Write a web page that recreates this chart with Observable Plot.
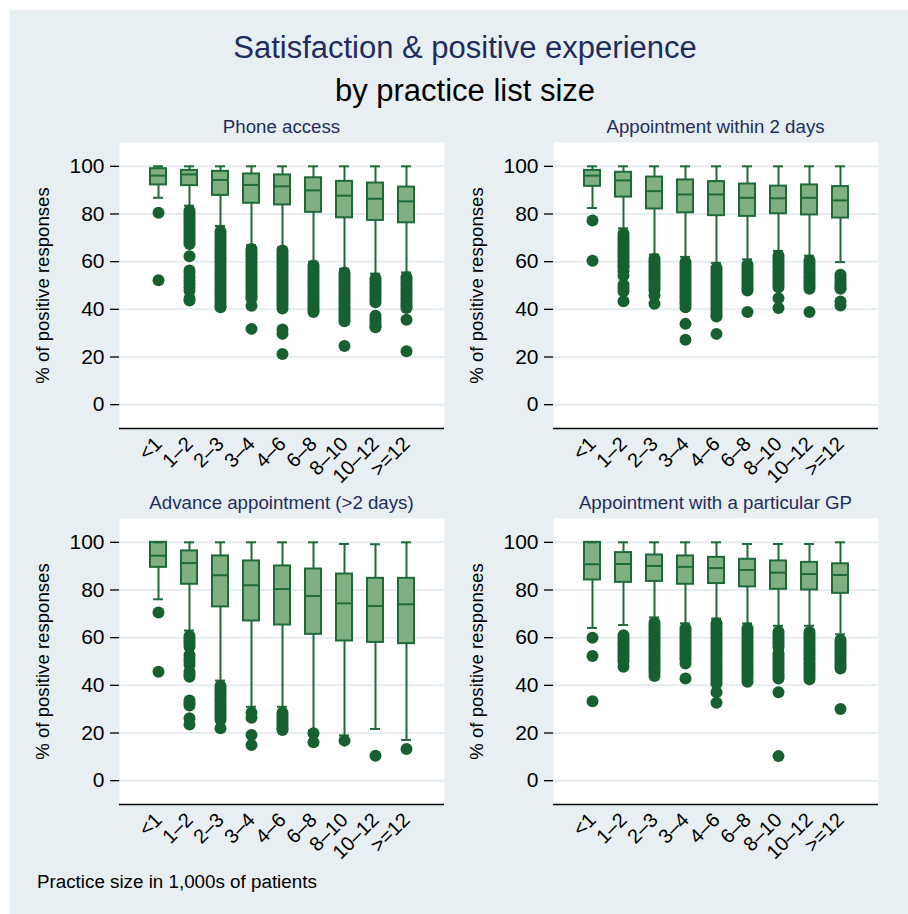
<!DOCTYPE html>
<html>
<head>
<meta charset="utf-8">
<script src="https://cdn.jsdelivr.net/npm/d3@7"></script>
<script src="https://cdn.jsdelivr.net/npm/@observablehq/plot@0.6"></script>
<style>
  html, body { margin: 0; padding: 0; background: #ffffff; }
  body { width: 908px; height: 914px; position: relative; overflow: hidden; font-family: "Liberation Sans", Arial, sans-serif; }
  #bg { position: absolute; left: 10px; top: 10px; width: 898px; height: 904px; background: #e8eff2; }
  .abs { position: absolute; white-space: nowrap; }
  .title { left: 0; width: 930px; text-align: center; font-size: 31px; line-height: 31px; }
  .ptitle { font-size: 18.7px; line-height: 19px; color: #1f2d5c; text-align: center; }
  .panel { position: absolute; }
</style>
</head>
<body>
<div id="bg"></div>
<div class="abs title" style="top:32px;color:#1f2d5c;">Satisfaction &amp; positive experience</div>
<div class="abs title" style="top:75px;color:#000;">by practice list size</div>
<div class="abs ptitle" style="left:119px;width:325px;top:117px;">Phone access</div>
<div class="abs ptitle" style="left:553px;width:325px;top:117px;">Appointment within 2 days</div>
<div class="abs ptitle" style="left:119px;width:325px;top:493px;">Advance appointment (&gt;2 days)</div>
<div class="abs ptitle" style="left:553px;width:325px;top:493px;">Appointment with a particular GP</div>
<div class="abs" style="left:37px;top:872px;font-size:18.8px;line-height:19px;color:#000;">Practice size in 1,000s of patients</div>
<div id="p1" class="panel" style="left:0px;top:140px;"></div>
<div id="p2" class="panel" style="left:454px;top:140px;"></div>
<div id="p3" class="panel" style="left:0px;top:516px;"></div>
<div id="p4" class="panel" style="left:454px;top:516px;"></div>
<script>
const categories = ["<1", "1–2", "2–3", "3–4", "4–6", "6–8", "8–10", "10–12", ">=12"];
const yTicks = [0, 20, 40, 60, 80, 100];
const yLabel = "% of positive responses";

// Phone access
const phoneHi  = [100, 100, 100, 100, 100, 100, 100, 100, 100];
const phoneQ3  = [99, 98.3, 97.9, 96.8, 96.4, 95.2, 93.7, 93, 91.3];
const phoneMed = [96.1, 96.6, 94.3, 92.2, 91.6, 89.9, 87.7, 86.4, 85.3];
const phoneQ1  = [92.2, 91.9, 87.8, 84.5, 83.8, 80.7, 78.4, 77.3, 76.3];
const phoneLo  = [86.8, 83.5, 75, 67, 66, 60, 57, 55, 55.5];
const phoneOut = [
  [80.5, 52.2],
  [81.4, 80.3, 79.2, 78.1, 77, 75.9, 74.8, 73.7, 72.6, 71.5, 70.4, 69.3, 68.2, 67.4, 62.3, 56.3, 55, 53.5, 52, 50.7, 49.3, 47.9, 44.5, 43.7],
  [72.7, 71.5, 70.3, 69.1, 67.9, 66.7, 65.5, 64.3, 63.1, 61.9, 60.7, 59.5, 58.3, 57.1, 55.9, 54.7, 53.5, 52.3, 51.1, 49.9, 48.7, 47.5, 46.3, 45.1, 43.9, 42.7, 41.5, 40.9],
  [65.3, 64.2, 63.1, 62, 60.9, 59.8, 58.7, 57.6, 56.5, 55.4, 54.3, 53.2, 52.1, 51, 49.9, 48.8, 47.7, 46.6, 45.5, 44.7, 41.5, 31.8],
  [64.7, 63.6, 62.5, 61.4, 60.3, 59.2, 58.1, 57, 55.9, 54.8, 53.7, 52.6, 51.5, 50.4, 49.3, 48.2, 47.1, 46, 44.9, 43.8, 42.7, 41.6, 40.3, 31.5, 29.7, 21.3],
  [58.4, 57.3, 56.2, 55.1, 54, 52.9, 51.8, 50.7, 49.6, 48.5, 47.4, 46.3, 45.2, 44.1, 43, 41.9, 40.8, 39.7, 38.9],
  [55.5, 54.4, 53.3, 52.2, 51.1, 50, 48.9, 47.8, 46.7, 45.6, 44.5, 43.4, 42.3, 41.2, 40.1, 39, 37.9, 36.8, 35.7, 35, 24.6],
  [52.9, 51.8, 50.7, 49.6, 48.5, 47.4, 46.3, 45.2, 44.1, 43, 37.3, 36.2, 35.1, 34, 32.9, 32.5],
  [53.5, 52.4, 51.3, 50.2, 49.1, 48, 46.9, 45.8, 44.7, 43.6, 42.5, 41.4, 40.6, 35.6, 22.4]
];

// Appointment within 2 days
const twoDayHi  = [100, 100, 100, 100, 100, 100, 100, 100, 100];
const twoDayQ3  = [98.3, 97.5, 95.5, 94.3, 93.6, 92.6, 91.7, 92.2, 91.5];
const twoDayMed = [96.1, 94.1, 89.6, 88.2, 88.2, 86.8, 86.6, 86.8, 85.7];
const twoDayQ1  = [91.6, 87.1, 82.1, 80.5, 79.3, 79, 80.1, 79.6, 78.3];
const twoDayLo  = [82.5, 74, 63, 62, 59.5, 61, 64.5, 62.5, 59.8];
const twoDayOut = [
  [77.3, 60.4],
  [71.7, 70.6, 69.5, 68.4, 67.3, 66.2, 65.1, 64, 62.9, 61.8, 60.7, 59.6, 58.5, 57.7, 56, 54.2, 50.3, 49, 47.6, 43.4],
  [61.2, 60.1, 59, 57.9, 56.8, 55.7, 54.6, 53.5, 52.4, 51.3, 50.2, 49.1, 48, 45.9, 42.3],
  [59.8, 58.7, 57.6, 56.5, 55.4, 54.3, 53.2, 52.1, 51, 49.9, 48.8, 47.7, 46.6, 45.5, 44.4, 43.3, 42.2, 40.9, 33.9, 27.2],
  [57.3, 56.2, 55.1, 54, 52.9, 51.8, 50.7, 49.6, 48.5, 47.4, 46.3, 45.2, 44.1, 43, 41.9, 40.8, 39.7, 38.6, 37.5, 37, 29.7],
  [58.7, 57.6, 56.5, 55.4, 54.3, 53.2, 52.1, 51, 49.9, 48.8, 47.9, 38.9],
  [62.5, 61.4, 60.3, 59.2, 58.1, 57, 55.9, 54.8, 53.7, 52.6, 51.5, 50.4, 49.3, 44.7, 40.6],
  [60.5, 59.4, 58.3, 57.2, 56.1, 55, 53.9, 52.8, 51.7, 50.6, 49.5, 48.6, 38.9],
  [54.5, 53.4, 52.3, 51.2, 50.1, 49, 48.6, 43.3, 41.6]
];

// Advance appointment (>2 days)
const advHi  = [100, 100, 100, 100, 100, 100, 99.3, 99.2, 100];
const advQ3  = [100, 96.4, 94.3, 92.2, 90.1, 88.8, 86.7, 84.9, 84.9];
const advMed = [94.4, 91.3, 86.2, 82, 80.4, 77.5, 74.4, 73.3, 74];
const advQ1  = [89.5, 82.4, 72.9, 67, 65.3, 61.4, 58.6, 58, 57.5];
const advLo  = [76.1, 63, 42, 31, 31, 21, 19, 21.7, 17.1];
const advOut = [
  [70.6, 45.7],
  [60.7, 59.6, 58.5, 57.4, 56.2, 52.7, 51.3, 49.9, 48.5, 45.7, 44.6, 43.6, 33.6, 32.5, 31.5, 26.2, 23.6],
  [39.7, 38.6, 37.5, 36.4, 35.3, 34.2, 33.1, 32, 30.9, 29.8, 28.7, 27.6, 26.5, 25.5, 22],
  [28.5, 26.4, 19.2, 15],
  [28.5, 27.4, 26.3, 25.2, 24.1, 23, 21.9, 21.3],
  [19.9, 16.1],
  [16.8],
  [10.5],
  [13.3]
];

// Appointment with a particular GP
const gpHi  = [100, 100, 100, 100, 100, 99.3, 99.3, 99.3, 100];
const gpQ3  = [100, 95.7, 94.7, 94.3, 93.7, 92.9, 92.2, 91.6, 91];
const gpMed = [90.8, 90.9, 90.1, 89.7, 89.2, 88.4, 87.3, 86.7, 86.3];
const gpQ1  = [84.2, 83.2, 83.6, 82.4, 82.7, 81.3, 80.3, 80, 78.6];
const gpLo  = [64.1, 65.3, 68.5, 66, 68, 66, 65, 65, 61.4];
const gpOut = [
  [60, 52.3, 33.3],
  [61, 59.9, 58.8, 57.7, 56.6, 55.5, 54.4, 53.3, 52.2, 51.1, 50, 47.8],
  [66.3, 65.2, 64.1, 63, 61.9, 60.8, 59.7, 58.6, 57.5, 56.4, 55.3, 54.2, 53.1, 52, 50.9, 49.8, 48.7, 47.6, 46.5, 45.4, 43.9],
  [63.9, 62.8, 61.7, 60.6, 59.5, 58.4, 57.3, 56.2, 55.1, 54, 52.9, 51.8, 50.7, 49.2, 42.9],
  [66, 64.9, 63.8, 62.7, 61.6, 60.5, 59.4, 58.3, 57.2, 56.1, 55, 53.9, 52.8, 51.7, 50.6, 49.5, 48.4, 47.3, 46.2, 45.1, 44, 42.9, 41.8, 40.8, 37.1, 32.7],
  [63.8, 62.7, 61.6, 60.5, 59.4, 58.3, 57.2, 56.1, 55, 53.9, 52.8, 51.7, 50.6, 49.5, 48.4, 47.3, 46.2, 45.1, 44, 42.9, 41.5],
  [62.5, 61.4, 60.3, 59.2, 58.1, 57, 56, 53.5, 52.4, 51.3, 50.2, 49.1, 48, 46.9, 45.8, 44.7, 43.6, 42.9, 37.1, 10.3],
  [62.4, 61.3, 60.2, 59.1, 58, 56.9, 55.8, 54.7, 53.6, 52.5, 51.4, 50.3, 49.2, 48.1, 47, 45.9, 44.8, 43.7, 42.5],
  [59, 57.9, 56.8, 55.7, 54.6, 53.5, 52.4, 51.3, 50.2, 49.1, 48, 47.1, 30.1]
];

const boxFill = "#80b07f";
const boxStroke = "#1e6a3a";
const dotFill = "#17602f";
const gridColor = "#e4ecf0";

function panel(id, hi, q3, med, q1, lo, out, marginLeft, marginRight) {
  const stats = categories.map((c, i) => ({c, hi: hi[i], q3: q3[i], med: med[i], q1: q1[i], lo: lo[i]}));
  const pts = categories.flatMap((c, i) => out[i].map(v => ({c, v})));
  const chart = Plot.plot({
    width: 454,
    height: 340,
    marginLeft,
    marginRight,
    marginTop: 2,
    marginBottom: 52,
    style: {background: "transparent", fontFamily: "Liberation Sans, Arial, sans-serif", fontSize: "21px", color: "#000", overflow: "visible"},
    x: {domain: categories, paddingInner: 0.5, paddingOuter: 0.85},
    y: {domain: [-10, 110]},
    marks: [
      Plot.frame({fill: "white", stroke: "none"}),
      Plot.ruleY(yTicks, {stroke: gridColor, strokeWidth: 2}),
      Plot.axisY({ticks: yTicks, label: null, tickSize: 9, tickPadding: 6, fontSize: 21, stroke: "#000", strokeWidth: 1.3}),
      Plot.axisX({label: null, tickSize: 0, tickRotate: -45, tickPadding: 12, fontSize: 20}),
      Plot.ruleY([-10], {stroke: "#000", strokeWidth: 1.5}),
      Plot.ruleX([categories[0]], {x: () => null, frameAnchor: "left", stroke: "#000", strokeWidth: 1.5}),
      Plot.ruleX(stats, {x: "c", y1: "q3", y2: "hi", stroke: boxStroke, strokeWidth: 2}),
      Plot.ruleX(stats, {x: "c", y1: "lo", y2: "q1", stroke: boxStroke, strokeWidth: 2}),
      Plot.barY(stats, {x: "c", y1: "q1", y2: "q3", fill: boxFill, stroke: boxStroke, strokeWidth: 2}),
      Plot.tickY(stats, {x: "c", y: "med", stroke: boxStroke, strokeWidth: 2}),
      Plot.tickY(stats, {x: "c", y: "hi", stroke: boxStroke, strokeWidth: 2, insetLeft: 3, insetRight: 3}),
      Plot.tickY(stats, {x: "c", y: "lo", stroke: boxStroke, strokeWidth: 2, insetLeft: 3, insetRight: 3}),
      Plot.dot(pts, {x: "c", y: "v", r: 6, fill: dotFill, stroke: "none"}),
      Plot.text([yLabel], {frameAnchor: "left", textAnchor: "middle", lineAnchor: "middle", dx: -76, rotate: -90, fontSize: 18.6, fill: "#000"})
    ]
  });
  document.getElementById(id).appendChild(chart);
}

panel("p1", phoneHi, phoneQ3, phoneMed, phoneQ1, phoneLo, phoneOut, 119, 10);
panel("p2", twoDayHi, twoDayQ3, twoDayMed, twoDayQ1, twoDayLo, twoDayOut, 99, 30);
panel("p3", advHi, advQ3, advMed, advQ1, advLo, advOut, 119, 10);
panel("p4", gpHi, gpQ3, gpMed, gpQ1, gpLo, gpOut, 99, 30);
</script>
</body>
</html>
